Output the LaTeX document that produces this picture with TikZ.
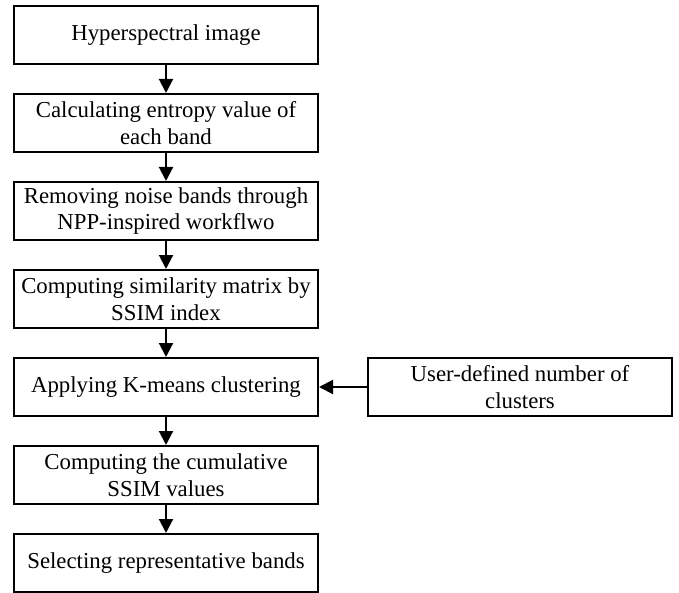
\documentclass[tikz,border=0pt]{standalone}
\usepackage{fontspec}
\setmainfont{Liberation Serif}
\usetikzlibrary{arrows.meta}
\begin{document}
\begin{tikzpicture}[x=0.5pt, y=-0.5pt, font=\fontsize{11.4}{13.3}\selectfont,
  box/.style={draw, line width=1pt, minimum width=152pt, minimum height=29pt, align=center, inner sep=2pt},
  flow/.style={-{Triangle[width=7pt, length=7pt]}, line width=1pt}]
  \useasboundingbox (0,0) rectangle (679,593);
  \node[box] (img) at (166,35) {Hyperspectral image};
  \node[box] (ent) at (166,123) {Calculating entropy value of\\each band};
  \node[box] (npp) at (166,211) {Removing noise bands through\\NPP-inspired workflwo};
  \node[box] (sim) at (166,299) {Computing similarity matrix by\\SSIM index};
  \node[box] (km) at (166,387) {Applying K-means clustering};
  \node[box] (cum) at (166,475) {Computing the cumulative\\SSIM values};
  \node[box] (sel) at (166,563) {Selecting representative bands};
  \node[box] (usr) at (520,387) {User-defined number of\\clusters};
  \draw[flow] (img) -- (ent);
  \draw[flow] (ent) -- (npp);
  \draw[flow] (npp) -- (sim);
  \draw[flow] (sim) -- (km);
  \draw[flow] (km) -- (cum);
  \draw[flow] (cum) -- (sel);
  \draw[flow] (usr) -- (km);
\end{tikzpicture}
\end{document}
